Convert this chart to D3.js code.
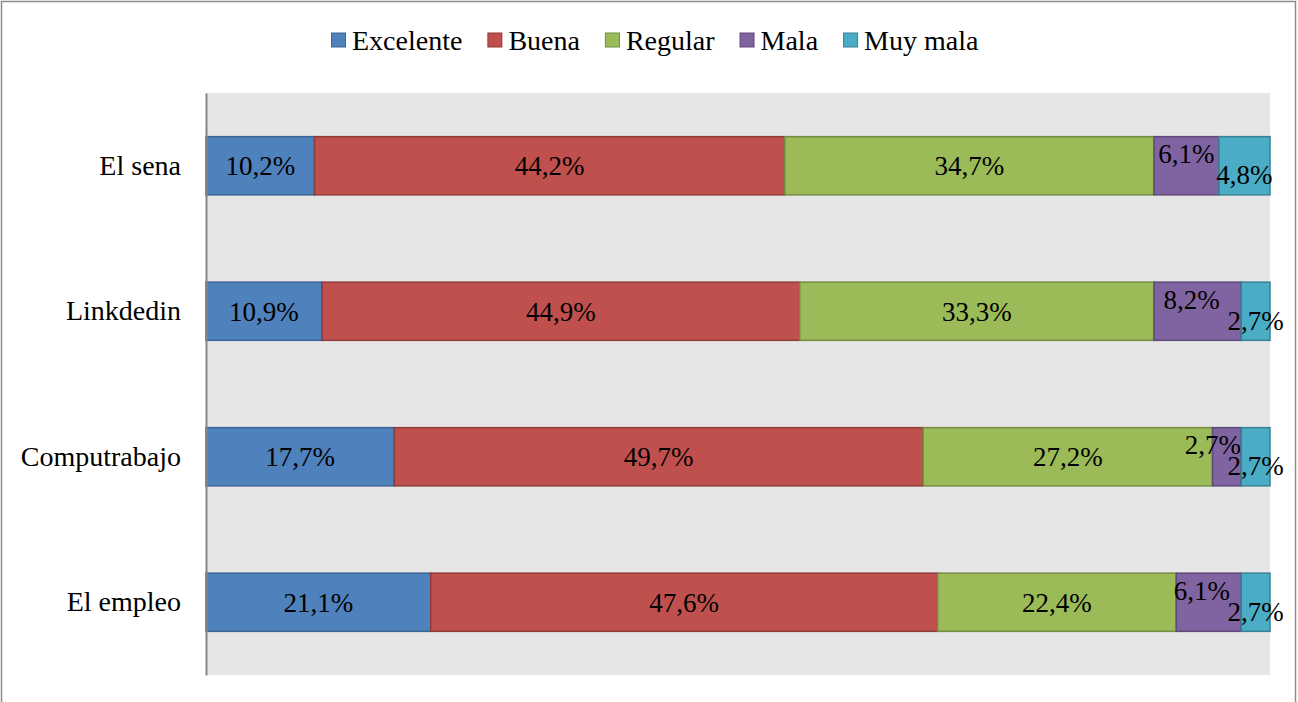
<!DOCTYPE html>
<html>
<head>
<meta charset="utf-8">
<script src="https://cdn.jsdelivr.net/npm/d3@7"></script>
<style>
  body { margin: 0; background: #fff; }
  svg text { font-family: "Liberation Serif", "Times New Roman", serif; fill: #000; }
</style>
</head>
<body>
<svg width="1298" height="702"></svg>
<script>
// datos
var categories = ["El sena", "Linkdedin", "Computrabajo", "El empleo"];
var seriesNames = ["Excelente", "Buena", "Regular", "Mala", "Muy mala"];
var excelente = [10.2, 10.9, 17.7, 21.1];
var buena     = [44.2, 44.9, 49.7, 47.6];
var regular   = [34.7, 33.3, 27.2, 22.4];
var mala      = [6.1, 8.2, 2.7, 6.1];
var muyMala   = [4.8, 2.7, 2.7, 2.7];
var xTicks = [0, 100];

var fills   = ["#4f81bd", "#c0504d", "#9bbb59", "#8064a2", "#4bacc6"];
var strokes = ["#3a6496", "#8e3b39", "#748c42", "#5e4a78", "#378095"];
// small nudges for labels of the narrow segments (like Excel does)
var labelDy = [0, 0, 0, -12, 9];
var labelDx = { "Computrabajo|Mala": -14, "Linkdedin|Mala": -6, "El empleo|Mala": -7 };

var table = categories.map(function (c, i) {
    return { cat: c, Excelente: excelente[i], Buena: buena[i], Regular: regular[i], Mala: mala[i], "Muy mala": muyMala[i] };
});

var svg = d3.select("svg"),
    margin = { top: 93, right: 28, bottom: 27, left: 206 },
    width = +svg.attr("width") - margin.left - margin.right,
    height = +svg.attr("height") - margin.top - margin.bottom;

// marco exterior
svg.append("rect")
    .attr("x", 1.5).attr("y", 1.5)
    .attr("width", 1294).attr("height", 720)
    .attr("fill", "none")
    .attr("stroke", "#8c8c8c")
    .attr("stroke-width", 1.5);

var g = svg.append("g").attr("transform", "translate(" + margin.left + "," + margin.top + ")");

var stack = d3.stack().keys(seriesNames).offset(d3.stackOffsetExpand);
var layers = stack(table);

var x = d3.scaleLinear().domain(d3.extent(xTicks)).range([0, width]);
var y = d3.scaleBand().domain(categories).range([0, height]).paddingInner(0.6).paddingOuter(0.3);

g.append("rect")
    .attr("width", width)
    .attr("height", height)
    .attr("fill", "#e6e6e6");

var layer = g.selectAll(".layer")
    .data(layers)
    .enter().append("g")
    .attr("class", "layer");

layer.selectAll("rect")
    .data(function (d) { return d; })
    .enter().append("rect")
    .attr("x", function (d) { return x(d[0] * 100); })
    .attr("y", function (d) { return y(d.data.cat); })
    .attr("width", function (d) { return x(d[1] * 100) - x(d[0] * 100); })
    .attr("height", y.bandwidth())
    .attr("fill", function (d, i, n) { return fills[seriesNames.indexOf(d3.select(n[i].parentNode).datum().key)]; })
    .attr("stroke", function (d, i, n) { return strokes[seriesNames.indexOf(d3.select(n[i].parentNode).datum().key)]; })
    .attr("stroke-width", 1.5);

layer.each(function (L, si) {
    d3.select(this).selectAll("text")
        .data(L)
        .enter().append("text")
        .attr("x", function (d) {
            var dx = labelDx[d.data.cat + "|" + L.key] || 0;
            return (x(d[0] * 100) + x(d[1] * 100)) / 2 + dx;
        })
        .attr("y", function (d) { return y(d.data.cat) + y.bandwidth() / 2 + labelDy[si]; })
        .attr("dy", "0.36em")
        .attr("text-anchor", "middle")
        .style("font-size", "27px")
        .text(function (d) { return d3.format(".1f")(d.data[L.key]).replace(".", ",") + "%"; });
});

// eje vertical
var yAxis = g.append("g")
    .call(d3.axisLeft(y).tickSize(0).tickPadding(25));
yAxis.select(".domain").attr("stroke", "#868686").attr("stroke-width", 2);
yAxis.selectAll("text")
    .style("font-size", "28px")
    .style("font-family", "Liberation Serif, serif");

// leyenda
var legend = svg.append("g").attr("transform", "translate(0,40)");
var lx = 331;
seriesNames.forEach(function (name, i) {
    var it = legend.append("g").attr("transform", "translate(" + lx + ",0)");
    it.append("rect")
        .attr("x", 0.5).attr("y", -7)
        .attr("width", 14).attr("height", 14)
        .attr("fill", fills[i])
        .attr("stroke", strokes[i]);
    var t = it.append("text")
        .attr("x", 21)
        .attr("dy", "0.35em")
        .style("font-size", "28px")
        .text(name);
    lx += 21 + t.node().getComputedTextLength() + 25;
});
</script>
</body>
</html>
